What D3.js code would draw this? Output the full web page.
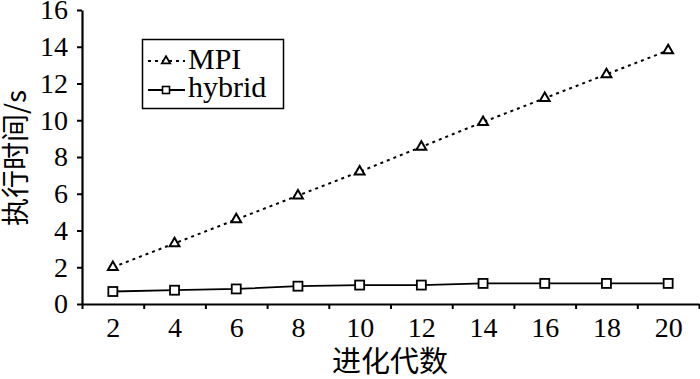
<!DOCTYPE html>
<html>
<head>
<meta charset="utf-8">
<script src="https://cdn.jsdelivr.net/npm/d3@7"></script>
<style>
  body { margin: 0; background: #fff; }
</style>
</head>
<body>
<script>
var w = 700;
var h = 379;

// data
var generations = [2, 4, 6, 8, 10, 12, 14, 16, 18, 20];
var mpiTimes = [2.0, 3.3, 4.6, 5.9, 7.2, 8.55, 9.9, 11.2, 12.5, 13.8];
var hybridTimes = [0.68, 0.75, 0.82, 0.97, 1.03, 1.03, 1.12, 1.12, 1.12, 1.12];
var xTickMarks = [1, 3, 5, 7, 9, 11, 13, 15, 17, 19, 21];
var xTickLabels = [2, 4, 6, 8, 10, 12, 14, 16, 18, 20];
var yTicks = [0, 2, 4, 6, 8, 10, 12, 14, 16];

var serif = '"Liberation Serif", "Times New Roman", serif';
var cjk = '"Noto Sans CJK SC", sans-serif';

var xScale = d3.scaleLinear().domain([1, 21]).range([82, 699]);
var yScale = d3.scaleLinear().domain([0, 16]).range([304, 10]);

var svg = d3.select("body").append("svg").attr("width", w).attr("height", h);

// axes
var xAxisMarks = d3.axisBottom(xScale).tickValues(xTickMarks).tickFormat("").tickSize(5).tickSizeOuter(0);
var xAxisLabels = d3.axisBottom(xScale).tickValues(xTickLabels).tickSize(0).tickPadding(13);
var yAxis = d3.axisLeft(yScale).tickValues(yTicks).tickSize(5).tickSizeOuter(0).tickPadding(9);

var gx = svg.append("g").attr("transform", "translate(0,304)").call(xAxisMarks);
gx.select(".domain").attr("stroke-width", 2.2);
gx.selectAll(".tick line").attr("stroke-width", 2);

var gxl = svg.append("g").attr("transform", "translate(0,304)").call(xAxisLabels)
  .attr("font-family", serif).attr("font-size", 28);
gxl.select(".domain").remove();
gxl.selectAll("text").style("font-family", serif).style("font-size", "28px").attr("fill", "#000");

var gy = svg.append("g").attr("transform", "translate(82,0)").call(yAxis)
  .attr("font-family", serif).attr("font-size", 28);
gy.select(".domain").attr("stroke-width", 2.2);
gy.selectAll(".tick line").attr("stroke-width", 2);
gy.selectAll("text").style("font-family", serif).style("font-size", "28px").attr("fill", "#000");

// axis titles
svg.append("text")
  .attr("x", 390)
  .attr("y", 372)
  .attr("text-anchor", "middle")
  .style("font-family", cjk)
  .style("font-size", "29px")
  .text("进化代数");

svg.append("text")
  .attr("transform", "translate(26,158) rotate(-90)")
  .attr("text-anchor", "middle")
  .style("font-family", cjk)
  .style("font-size", "28px")
  .text("执行时间/s");

// lines
var mpiData = generations.map(function (g, i) { return [g, mpiTimes[i]]; });
var hybridData = generations.map(function (g, i) { return [g, hybridTimes[i]]; });

var line = d3.line()
  .x(function (d) { return xScale(d[0]); })
  .y(function (d) { return yScale(d[1]); });

svg.append("path")
  .datum(mpiData)
  .attr("d", line)
  .attr("fill", "none")
  .attr("stroke", "#000")
  .attr("stroke-width", 2)
  .attr("stroke-dasharray", "3,4");

svg.append("path")
  .datum(hybridData)
  .attr("d", line)
  .attr("fill", "none")
  .attr("stroke", "#000")
  .attr("stroke-width", 1.8);

var tri = d3.symbol().type(d3.symbolTriangle).size(42);

svg.selectAll(".tri")
  .data(mpiData)
  .enter()
  .append("path")
  .attr("class", "tri")
  .attr("d", tri)
  .attr("transform", function (d) { return "translate(" + xScale(d[0]) + "," + yScale(d[1]) + ")"; })
  .attr("fill", "#fff")
  .attr("stroke", "#000")
  .attr("stroke-width", 2);

svg.selectAll(".sq")
  .data(hybridData)
  .enter()
  .append("rect")
  .attr("class", "sq")
  .attr("x", function (d) { return xScale(d[0]) - 4.5; })
  .attr("y", function (d) { return yScale(d[1]) - 4.5; })
  .attr("width", 9)
  .attr("height", 9)
  .attr("fill", "#fff")
  .attr("stroke", "#000")
  .attr("stroke-width", 1.8);

// legend
var legend = svg.append("g");
legend.append("rect")
  .attr("x", 142.5).attr("y", 39.5)
  .attr("width", 141).attr("height", 69)
  .attr("fill", "#fff")
  .attr("stroke", "#000")
  .attr("stroke-width", 1.5);

legend.append("line")
  .attr("x1", 148).attr("x2", 185).attr("y1", 61).attr("y2", 61)
  .attr("stroke", "#000").attr("stroke-width", 1.8).attr("stroke-dasharray", "3,4");
legend.append("path")
  .attr("d", d3.symbol().type(d3.symbolTriangle).size(30))
  .attr("transform", "translate(166,61)")
  .attr("fill", "#fff").attr("stroke", "#000").attr("stroke-width", 1.8);
legend.append("text").attr("x", 188).attr("y", 69)
  .style("font-family", serif).style("font-size", "30px").text("MPI");

legend.append("line")
  .attr("x1", 148).attr("x2", 185).attr("y1", 90).attr("y2", 90)
  .attr("stroke", "#000").attr("stroke-width", 1.8);
legend.append("rect")
  .attr("x", 162.5).attr("y", 86.5).attr("width", 7).attr("height", 7)
  .attr("fill", "#fff").attr("stroke", "#000").attr("stroke-width", 1.6);
legend.append("text").attr("x", 188).attr("y", 97)
  .style("font-family", serif).style("font-size", "30px").text("hybrid");
</script>
</body>
</html>
